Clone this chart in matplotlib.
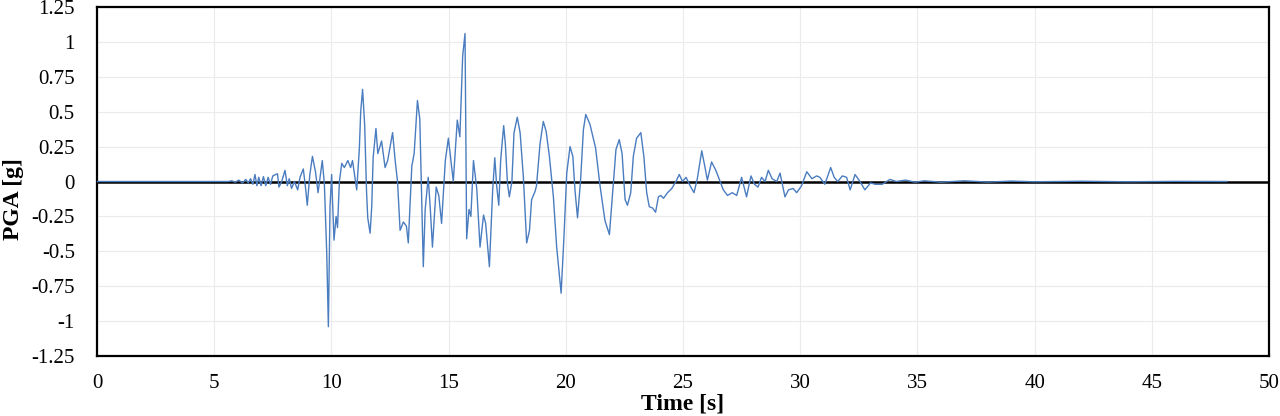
import matplotlib.pyplot as plt

# Accelerogram, split in three phases: time [s], PGA [g]
t_onset = [0.0, 5.6, 5.75, 5.9, 6.05, 6.2, 6.35, 6.45, 6.55, 6.65, 6.74,
           6.82, 6.9, 7.0, 7.1, 7.2, 7.3, 7.4, 7.5, 7.62, 7.7, 7.76, 7.88,
           8.02, 8.12, 8.2, 8.3, 8.42, 8.56, 8.66, 8.8, 8.88, 8.97, 9.08,
           9.19, 9.32, 9.43, 9.61, 9.7]
g_onset = [0.0, 0.0, 0.005, -0.005, 0.01, -0.01, 0.015, -0.01, 0.02, -0.02,
           0.05, -0.03, 0.03, -0.03, 0.035, -0.03, 0.03, -0.02, 0.04, 0.05,
           0.055, -0.04, 0.0, 0.08, -0.03, 0.02, -0.05, 0.0, -0.06, 0.03,
           0.09, -0.02, -0.17, 0.05, 0.18, 0.07, -0.08, 0.15, -0.02]

t_strong = [9.8, 9.87, 9.94, 10.01, 10.05, 10.11, 10.2, 10.26, 10.34, 10.44,
            10.55, 10.7, 10.82, 10.9, 11.08, 11.19, 11.25, 11.33, 11.42,
            11.5, 11.55, 11.65, 11.72, 11.78, 11.9, 11.98, 12.14, 12.29,
            12.4, 12.61, 12.72, 12.82, 12.93, 13.07, 13.2, 13.28, 13.43,
            13.53, 13.67, 13.77, 13.92, 14.0, 14.13, 14.22, 14.31, 14.47,
            14.58, 14.7, 14.86, 14.99, 15.1, 15.2, 15.37, 15.48, 15.6, 15.7,
            15.77, 15.87, 15.95, 16.06, 16.2, 16.34, 16.49, 16.58, 16.74,
            16.88, 16.97, 17.05, 17.14, 17.22, 17.27, 17.35, 17.42, 17.51,
            17.59, 17.7, 17.79, 17.93, 18.05, 18.19, 18.33, 18.45, 18.54,
            18.69, 18.75, 18.9, 19.04, 19.16, 19.3, 19.47, 19.61, 19.8,
            19.92, 20.04, 20.18, 20.3, 20.39, 20.5, 20.63, 20.75, 20.85,
            21.03, 21.27, 21.46, 21.67, 21.86, 22.0, 22.14, 22.28, 22.4,
            22.53, 22.63, 22.77, 22.88, 23.02, 23.2, 23.33, 23.45, 23.56,
            23.7, 23.83, 23.95]
g_strong = [-0.51, -1.04, -0.18, 0.05, -0.15, -0.42, -0.25, -0.33, 0.0, 0.13,
            0.1, 0.15, 0.1, 0.15, -0.06, 0.23, 0.5, 0.66, 0.4, -0.08, -0.26,
            -0.37, -0.18, 0.17, 0.38, 0.2, 0.29, 0.1, 0.15, 0.35, 0.15, 0.0,
            -0.35, -0.29, -0.32, -0.44, 0.11, 0.2, 0.58, 0.45, -0.61, -0.2,
            0.03, -0.2, -0.47, -0.04, -0.1, -0.3, 0.15, 0.31, 0.15, 0.0,
            0.44, 0.32, 0.9, 1.06, -0.41, -0.2, -0.25, 0.15, -0.05, -0.47,
            -0.24, -0.3, -0.61, -0.06, 0.17, -0.03, -0.17, 0.15, 0.25, 0.4,
            0.27, -0.01, -0.11, 0.0, 0.35, 0.46, 0.35, 0.03, -0.44, -0.35,
            -0.13, -0.07, -0.03, 0.27, 0.43, 0.36, 0.18, -0.11, -0.47, -0.8,
            -0.4, 0.06, 0.25, 0.18, -0.06, -0.26, 0.01, 0.37, 0.48, 0.41,
            0.24, -0.03, -0.28, -0.38, -0.08, 0.23, 0.3, 0.2, -0.13, -0.17,
            -0.08, 0.18, 0.31, 0.35, 0.18, -0.08, -0.18, -0.19, -0.22, -0.11]

t_coda = [24.05, 24.17, 24.34, 24.52, 24.7, 24.84, 24.98, 25.13, 25.3, 25.47,
          25.61, 25.8, 25.94, 26.04, 26.22, 26.4, 26.72, 26.9, 27.1, 27.29,
          27.5, 27.71, 27.9, 28.05, 28.2, 28.35, 28.5, 28.64, 28.8, 29.0,
          29.14, 29.35, 29.5, 29.7, 29.85, 30.06, 30.28, 30.5, 30.7, 30.84,
          31.05, 31.3, 31.45, 31.6, 31.8, 31.98, 32.13, 32.34, 32.55, 32.76,
          33.0, 33.2, 33.5, 33.83, 34.1, 34.5, 34.9, 35.3, 36.0, 37.0, 38.0,
          39.0, 40.0, 42.0, 44.0, 46.0, 48.2]
g_coda = [-0.1, -0.12, -0.08, -0.05, 0.0, 0.05, 0.0, 0.03, -0.03, -0.08,
          0.02, 0.22, 0.1, 0.01, 0.14, 0.08, -0.06, -0.1, -0.08, -0.1, 0.03,
          -0.11, 0.04, -0.02, -0.04, 0.03, 0.0, 0.08, 0.02, 0.0, 0.06, -0.11,
          -0.06, -0.05, -0.08, -0.03, 0.07, 0.02, 0.04, 0.03, -0.02, 0.1,
          0.03, 0.0, 0.04, 0.03, -0.06, 0.05, 0.0, -0.06, -0.01, -0.02,
          -0.02, 0.015, 0.0, 0.01, -0.005, 0.005, -0.005, 0.005, -0.004,
          0.003, -0.002, 0.002, -0.002, 0.001, 0.0]

time_s = t_onset + t_strong + t_coda
pga_g = g_onset + g_strong + g_coda

x_ticks = [0, 5, 10, 15, 20, 25, 30, 35, 40, 45, 50]
y_ticks = [-1.25, -1, -0.75, -0.5, -0.25, 0, 0.25, 0.5, 0.75, 1, 1.25]
y_tick_labels = ["-1.25", "-1", "-0.75", "-0.5", "-0.25", "0",
                 "0.25", "0.5", "0.75", "1", "1.25"]

plt.rcParams["font.family"] = ["Liberation Serif", "DejaVu Serif"]

fig = plt.figure(figsize=(12.8, 4.16), dpi=100)
ax = fig.add_axes([0.0758, 0.1442, 0.9156, 0.8390])

# grid behind everything, zero line, then the record
ax.grid(True, color="#ebebeb", linewidth=0.8)
ax.set_axisbelow(True)
ax.axhline(0, color="black", linewidth=1.8, zorder=2)
ax.plot(time_s, pga_g, color="#4a7cc0", linewidth=1.0, zorder=3)

ax.set_xlim(0, 50)
ax.set_ylim(-1.25, 1.25)
ax.set_xticks(x_ticks)
ax.set_yticks(y_ticks, labels=y_tick_labels)
ax.tick_params(axis="both", length=0, labelsize=15)
ax.tick_params(axis="y", pad=16)
ax.tick_params(axis="x", pad=13)

for spine in ax.spines.values():
    spine.set_linewidth(1.6)
    spine.set_color("black")

ax.set_xlabel("Time [s]", fontsize=17, fontweight="bold", labelpad=0)
ax.set_ylabel("PGA [g]", fontsize=17, fontweight="bold")
ax.yaxis.set_label_coords(-0.062, 0.45)

fig.savefig("out.png", dpi=100)
